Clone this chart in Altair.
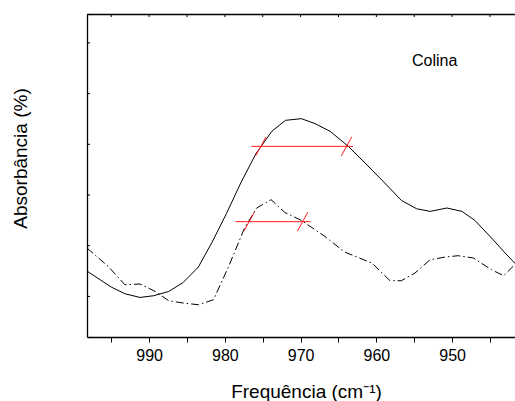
import altair as alt
import pandas as pd

# Solid spectrum (frequency cm-1, absorbance in arbitrary units)
solid_f = [998.2, 995.0, 993.2, 991.2, 989.4, 987.4, 985.5, 983.5, 981.7, 979.8,
           977.9, 975.9, 973.8, 972.0, 969.9, 968.1, 966.1, 963.7, 961.5, 958.9,
           956.7, 954.7, 952.9, 950.7, 948.7, 947.0, 944.8, 943.0, 941.5]
solid_a = [1.50, 1.185, 1.053, 0.980, 1.014, 1.099, 1.276, 1.580, 2.066, 2.632,
           3.238, 3.816, 4.256, 4.473, 4.506, 4.408, 4.256, 3.960, 3.632, 3.238,
           2.894, 2.730, 2.677, 2.744, 2.677, 2.500, 2.152, 1.856, 1.62]

# Dash-dot spectrum
dd_f = [998.2, 995.4, 993.2, 991.2, 989.2, 987.4, 985.5, 983.5, 981.5, 979.5,
        977.4, 975.8, 973.9, 972.1, 969.9, 966.8, 964.2, 960.6, 958.2, 956.7,
        954.9, 952.9, 950.9, 949.2, 947.2, 944.8, 943.2, 941.5]
dd_a = [1.955, 1.592, 1.231, 1.245, 1.099, 0.915, 0.870, 0.836, 0.935, 1.592,
        2.350, 2.744, 2.908, 2.657, 2.500, 2.184, 1.876, 1.659, 1.310, 1.310,
        1.462, 1.724, 1.777, 1.803, 1.758, 1.527, 1.408, 1.659]

# Half-height width markers
fwhm_start = [976.5, 978.6]
fwhm_end = [963.1, 968.7]
fwhm_level = [3.96, 2.474]
cross_f = [975.25, 963.94, 976.8, 969.74]
cross_a = [3.96, 3.96, 2.474, 2.474]

x_ticks = [995, 990, 985, 980, 975, 970, 965, 960, 955, 950, 945]
y_ticks = [1, 2, 3, 4, 5, 6]

label_text = ["Colina"]
label_f = [952.3]
label_a = [5.54]

x_dom = [998.2, 941.7]
y_dom = [0.2, 6.57]

FONT = "Liberation Sans"

xs = alt.Scale(domain=x_dom, nice=False, zero=False)
ys = alt.Scale(domain=y_dom, nice=False, zero=False)

solid_df = pd.DataFrame({"f": solid_f, "a": solid_a})
dd_df = pd.DataFrame({"f": dd_f, "a": dd_a})
fw_df = pd.DataFrame({"f1": fwhm_start, "f2": fwhm_end, "a": fwhm_level})
cr_df = pd.DataFrame({"f": cross_f, "a": cross_a})
xt_df = pd.DataFrame({"f": x_ticks})
yt_df = pd.DataFrame({"a": y_ticks})
lb_df = pd.DataFrame({"t": label_text, "f": label_f, "a": label_a})
top_df = pd.DataFrame({"f1": [x_dom[0]], "f2": [x_dom[1]]})

x_axis = alt.Axis(
    orient="bottom",
    values=x_ticks,
    labelExpr="datum.value % 10 == 0 ? datum.label : ''",
    tickSize=5, tickColor="black", tickWidth=1,
    labelFont=FONT, labelFontSize=16, labelColor="black", labelFontWeight="normal",
    labelPadding=5, domain=True, domainColor="black", domainWidth=1.3,
    grid=False,
    title="Frequência (cm⁻¹)", titleFont=FONT, titleFontSize=19,
    titleFontWeight="normal", titleColor="black",
    titleX=219, titleY=60, titleAlign="center", titleBaseline="alphabetic",
)
y_axis = alt.Axis(
    labels=False, ticks=False, grid=False,
    domain=True, domainColor="black", domainWidth=1.3,
    title="Absorbância (%)", titleFont=FONT, titleFontSize=19,
    titleFontWeight="normal", titleColor="black",
    titleX=-61, titleY=144, titleAlign="center", titleBaseline="alphabetic",
    titleAngle=270,
)

solid = alt.Chart(solid_df).mark_line(color="black", strokeWidth=1, clip=True).encode(
    x=alt.X("f:Q", scale=xs, axis=x_axis),
    y=alt.Y("a:Q", scale=ys, axis=y_axis),
)
dashdot = alt.Chart(dd_df).mark_line(color="black", strokeWidth=1, clip=True,
                                     strokeDash=[8, 3, 1.5, 3]).encode(
    x="f:Q", y="a:Q",
)
fw = alt.Chart(fw_df).mark_rule(color="#ff1a1a", strokeWidth=1).encode(
    x="f1:Q", x2="f2:Q", y="a:Q",
)
cross = alt.Chart(cr_df).mark_point(
    shape="M -0.55 1 L 0.55 -1", size=361, filled=False,
    stroke="#ff1a1a", strokeWidth=1, opacity=1,
).encode(x="f:Q", y="a:Q")
top_border = alt.Chart(top_df).mark_rule(color="black", strokeWidth=1.3).encode(
    x="f1:Q", x2="f2:Q", y=alt.value(0.5),
)
top_ticks = alt.Chart(xt_df).mark_rule(color="black", strokeWidth=1).encode(
    x="f:Q", y=alt.value(0), y2=alt.value(3),
)
left_ticks = alt.Chart(yt_df).mark_rule(color="black", strokeWidth=1).encode(
    y="a:Q", x=alt.value(0), x2=alt.value(3),
)
label = alt.Chart(lb_df).mark_text(
    font=FONT, fontSize=16, color="black", align="center", baseline="alphabetic",
).encode(x="f:Q", y="a:Q", text="t:N")

chart = alt.layer(solid, dashdot, fw, cross, top_border, top_ticks, left_ticks,
                  label).properties(
    width=428, height=323,
    autosize=alt.AutoSizeParams(type="none"),
    padding={"left": 87, "top": 14, "right": 0, "bottom": 64},
    background="white",
).configure_view(stroke=None)

chart.save("out.html", embed_options={"renderer": "svg", "actions": False})
